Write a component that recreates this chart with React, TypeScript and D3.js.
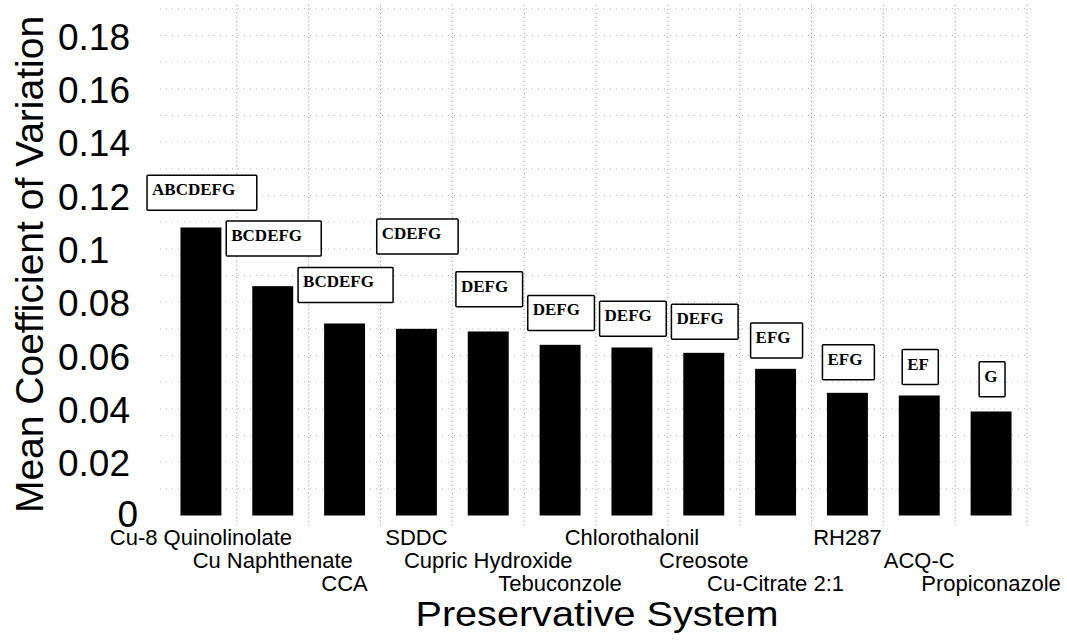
import React, { useEffect, useRef } from "react";
import * as d3 from "d3";

// Preservative systems, in plotted order
const systems = [
  "Cu-8 Quinolinolate",
  "Cu Naphthenate",
  "CCA",
  "SDDC",
  "Cupric Hydroxide",
  "Tebuconzole",
  "Chlorothalonil",
  "Creosote",
  "Cu-Citrate 2:1",
  "RH287",
  "ACQ-C",
  "Propiconazole",
];

// Mean coefficient of variation for each system
const meanCV = [0.108, 0.086, 0.072, 0.07, 0.069, 0.064, 0.063, 0.061, 0.055, 0.046, 0.045, 0.039];

// Statistical grouping letters shown above each bar
const groupings = ["ABCDEFG", "BCDEFG", "BCDEFG", "CDEFG", "DEFG", "DEFG", "DEFG", "DEFG", "EFG", "EFG", "EF", "G"];

// Value on the y axis where the lower edge of each grouping box sits
const groupingLevel = [0.1145, 0.0973, 0.0799, 0.0981, 0.0783, 0.0694, 0.0672, 0.0661, 0.0591, 0.0509, 0.0491, 0.0445];

// Y axis ticks
const tickValues = [0, 0.02, 0.04, 0.06, 0.08, 0.1, 0.12, 0.14, 0.16, 0.18];
const tickLabels = ["0", "0.02", "0.04", "0.06", "0.08", "0.1", "0.12", "0.14", "0.16", "0.18"];

// Minor grid every 0.01
const gridValues = d3.range(1, 20).map((k) => k / 100);

const W = 1067;
const H = 640;
const SANS = "'Liberation Sans', Arial, Helvetica, sans-serif";
const SERIF = "'Liberation Serif', 'Times New Roman', serif";

export default function App() {
  const ref = useRef<SVGSVGElement | null>(null);

  useEffect(() => {
    const svg = d3.select(ref.current);
    svg.selectAll("*").remove();

    const x = d3
      .scaleBand<string>()
      .domain(systems)
      .range([165, 1027])
      .paddingInner(0.43)
      .paddingOuter(0.215);
    const y = d3.scaleLinear().domain([0, 0.19]).range([515.5, 8.8]);

    const step = x.step();
    const center = (s: string) => (x(s) as number) + x.bandwidth() / 2;

    // horizontal dotted grid
    svg
      .append("g")
      .selectAll("line")
      .data(gridValues)
      .join("line")
      .attr("x1", 160)
      .attr("x2", 1032)
      .attr("y1", (d) => y(d))
      .attr("y2", (d) => y(d))
      .attr("stroke", "#b5b5b5")
      .attr("stroke-width", 1)
      .attr("stroke-dasharray", "1 5");

    // vertical dotted grid at the right edge of each category cell
    const bounds = systems.map((s) => center(s) + step / 2);
    svg
      .append("g")
      .selectAll("line")
      .data(bounds)
      .join("line")
      .attr("x1", (d) => d)
      .attr("x2", (d) => d)
      .attr("y1", y(0.19) - 4)
      .attr("y2", y(0) + 10)
      .attr("stroke", "#888")
      .attr("stroke-width", 1)
      .attr("stroke-dasharray", "1 3");

    // bars
    svg
      .append("g")
      .selectAll("rect")
      .data(systems)
      .join("rect")
      .attr("x", (d) => x(d) as number)
      .attr("width", x.bandwidth())
      .attr("y", (d, i) => y(meanCV[i]))
      .attr("height", (d, i) => y(0) - y(meanCV[i]))
      .attr("fill", "#000");

    // grouping letter boxes
    const boxes = svg.append("g");
    systems.forEach((s, i) => {
      const g = boxes.append("g");
      const rect = g.append("rect");
      const t = g
        .append("text")
        .text(groupings[i])
        .attr("font-family", SERIF)
        .attr("font-weight", "bold")
        .attr("font-size", 17)
        .attr("fill", "#000");
      const tw = (t.node() as SVGTextElement).getComputedTextLength();
      const bw = 1.2 * tw + 10;
      const bh = 35;
      const bx = center(s) + 1 - bw / 2;
      const by = y(groupingLevel[i]) - bh;
      rect
        .attr("x", bx)
        .attr("y", by)
        .attr("width", bw)
        .attr("height", bh)
        .attr("rx", 1)
        .attr("fill", "#fff")
        .attr("stroke", "#000")
        .attr("stroke-width", 1.5);
      t.attr("x", bx + 5).attr("y", by + 20);
    });

    // y tick labels
    svg
      .append("g")
      .selectAll("text")
      .data(tickValues)
      .join("text")
      .attr("x", (d) => (d === 0 ? 138 : 58))
      .attr("y", (d) => y(d))
      .attr("dy", (d) => (d === 0 ? "0.3em" : "0.38em"))
      .attr("text-anchor", (d) => (d === 0 ? "end" : "start"))
      .attr("font-family", SANS)
      .attr("font-size", 37)
      .attr("fill", "#000")
      .text((d, i) => tickLabels[i]);

    // category labels, staggered on three rows
    const rowY = [545, 568, 591];
    svg
      .append("g")
      .selectAll("text")
      .data(systems)
      .join("text")
      .attr("x", (d) => center(d))
      .attr("y", (d, i) => rowY[i % 3])
      .attr("text-anchor", "middle")
      .attr("font-family", SANS)
      .attr("font-size", 22)
      .attr("fill", "#000")
      .text((d) => d);

    // axis titles
    svg
      .append("text")
      .attr("x", 597)
      .attr("y", 626)
      .attr("text-anchor", "middle")
      .attr("font-family", SANS)
      .attr("font-size", 35)
      .attr("textLength", 363)
      .attr("lengthAdjust", "spacingAndGlyphs")
      .attr("fill", "#000")
      .text("Preservative System");

    svg
      .append("text")
      .attr("transform", "translate(43,264.5) rotate(-90)")
      .attr("text-anchor", "middle")
      .attr("font-family", SANS)
      .attr("font-size", 39)
      .attr("fill", "#000")
      .text("Mean Coefficient of Variation");
  }, []);

  return (
    <svg
      ref={ref}
      width={W}
      height={H}
      viewBox={`0 0 ${W} ${H}`}
      style={{ position: "absolute", left: 0, top: 0, display: "block", background: "#fff" }}
    />
  );
}
